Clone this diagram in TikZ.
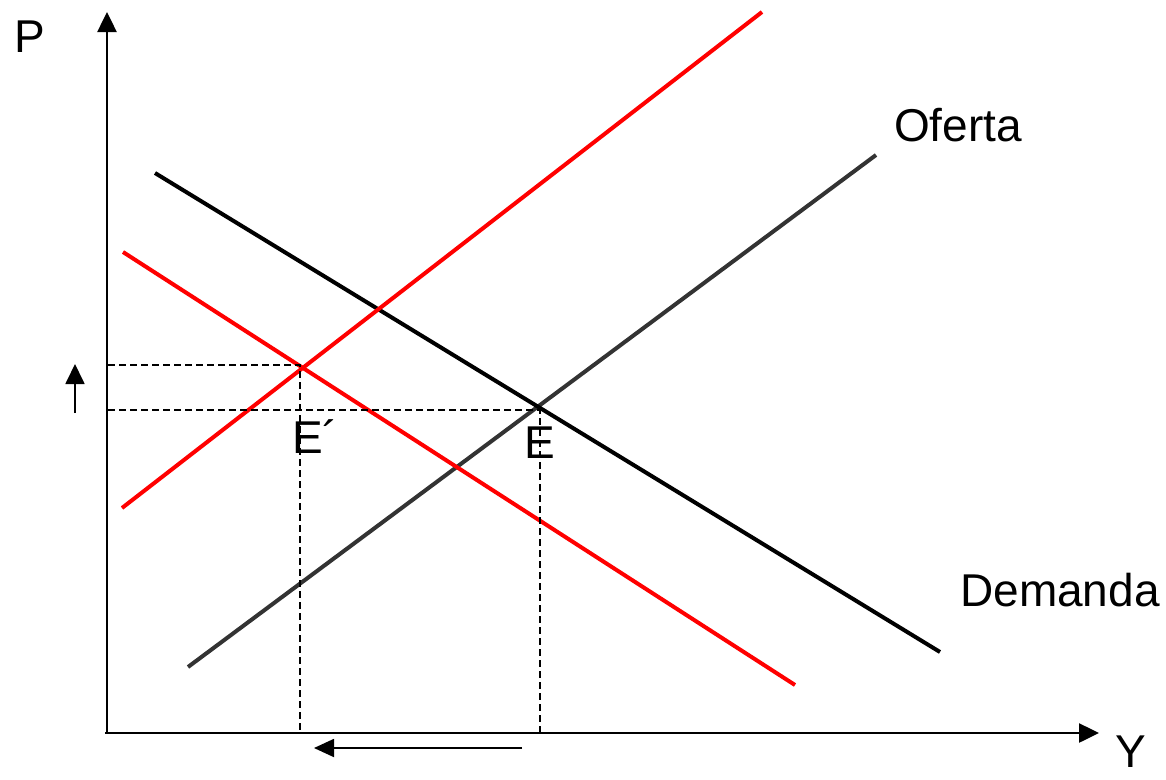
\documentclass[tikz,border=0pt]{standalone}
\usepackage{fontspec}
\setmainfont{Liberation Sans}
\usetikzlibrary{arrows.meta}
\begin{document}
\begin{tikzpicture}[x=1pt,y=-1pt,
  axis/.style={line width=2.5pt,-{Triangle[length=20pt,width=19pt]}},
  curve/.style={line width=4pt},
  guide/.style={line width=1.4pt,dash pattern=on 7pt off 4pt},
  moveArrow/.style={line width=1.8pt,-{Triangle[length=20pt,width=18pt]}},
  lbl/.style={inner sep=0pt,font=\fontsize{46}{50}\selectfont}]
\useasboundingbox (0,0) rectangle (1166,779);
% axes
\coordinate (O) at (107,733);
\coordinate (Ptop) at (107,12);
\coordinate (Yend) at (1099,733);
\draw[axis] (O) -- (Ptop);
\draw[axis] (105,733) -- (Yend);
% curves
\coordinate (s1a) at (188,667); \coordinate (s1b) at (876,155);
\coordinate (d1a) at (155,173); \coordinate (d1b) at (940,652);
\coordinate (s2a) at (122,508); \coordinate (s2b) at (762,12);
\coordinate (d2a) at (123,252); \coordinate (d2b) at (795,685);
\draw[curve,color=black!80] (s1a) -- (s1b);
\draw[curve] (d1a) -- (d1b);
\draw[curve,red] (s2a) -- (s2b);
\draw[curve,red] (d2a) -- (d2b);
% guides
\coordinate (E) at (540,410);
\coordinate (E2) at (300,365);
\draw[guide] (108,410) -- (E) -- (540,733);
\draw[guide] (108,365) -- (E2) -- (300,733);
% shift arrows
\coordinate (ua) at (75,413); \coordinate (ub) at (75,364);
\draw[moveArrow,-{Triangle[length=20pt,width=19pt]}] (ua) -- (ub);
\coordinate (la) at (522,748); \coordinate (lb) at (314,748);
\draw[moveArrow] (la) -- (lb);
% labels
\node[lbl] (P) at (30,37) {P};
\node[lbl] (Y) at (1131,752) {Y};
\node[lbl] (Of) at (958,125) {Oferta};
\node[lbl] (De) at (1060,590) {Demanda};
\node[lbl] (Elbl) at (540,443) {E};
\node[lbl] (E2lbl) at (315,437) {E´};
\end{tikzpicture}
\end{document}
